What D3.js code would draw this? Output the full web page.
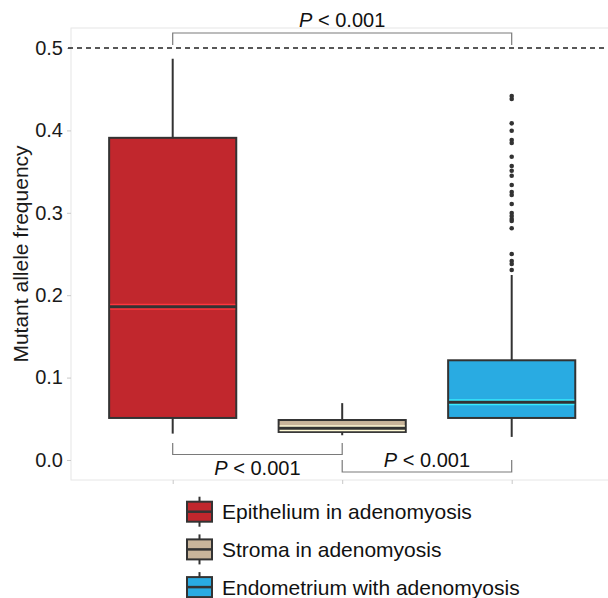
<!DOCTYPE html>
<html>
<head>
<meta charset="utf-8">
<script src="https://cdn.jsdelivr.net/npm/d3@7"></script>
<style>
  body { margin: 0; background: #fff; }
  svg { font-family: "Liberation Sans", Arial, sans-serif; }
</style>
</head>
<body>
<svg id="chart" width="608" height="598"></svg>
<script>
// box statistics
const categories = ["Epithelium in adenomyosis", "Stroma in adenomyosis", "Endometrium with adenomyosis"]
const colors = ["#c1272d", "#c9b59b", "#29abe2"]
const whiskerLow = [0.032, 0.030, 0.028]
const q1 = [0.051, 0.034, 0.051]
const median = [0.186, 0.0385, 0.070]
const q3 = [0.391, 0.0485, 0.121]
const whiskerHigh = [0.487, 0.069, 0.2245]
const endoOutliers = [0.4417, 0.4381, 0.4086, 0.3996, 0.3883, 0.3847, 0.3681, 0.3568,
  0.3511, 0.345, 0.3337, 0.3252, 0.3216, 0.3107, 0.2998, 0.2961, 0.2925, 0.29,
  0.2812, 0.25, 0.2415, 0.2379, 0.2306]
const yTicks = [0.0, 0.1, 0.2, 0.3, 0.4, 0.5]
const threshold = 0.5
const comparisons = [
  { from: 0, to: 2, label: "< 0.001" },
  { from: 0, to: 1, label: "< 0.001" },
  { from: 1, to: 2, label: "< 0.001" },
]

const svg = d3.select("#chart")
const panel = { left: 71, right: 613.4, top: 28, bottom: 480 }

const x = d3.scalePoint()
  .domain(categories)
  .range([panel.left, panel.right])
  .padding(0.6)
const y = d3.scaleLinear()
  .domain([-0.0243, 0.5243])
  .range([panel.bottom, panel.top])
const boxWidth = x.step() * 0.75

// panel border
svg.append("rect")
  .attr("x", panel.left).attr("y", panel.top)
  .attr("width", panel.right - panel.left).attr("height", panel.bottom - panel.top)
  .attr("fill", "none").attr("stroke", "#e6e6e6").attr("stroke-width", 1)

// axes
svg.append("g")
  .attr("transform", `translate(${panel.left},0)`)
  .call(d3.axisLeft(y).tickValues(yTicks).tickFormat(d3.format(".1f")).tickSize(4).tickPadding(4))
  .call((axis) => axis.select(".domain").remove())
  .call((axis) => axis.selectAll("line").attr("stroke", "#c8c8c8"))
  .call((axis) => axis.selectAll("text").attr("fill", "#1a1a1a").style("font-size", "20px")
    .attr("font-family", "Liberation Sans, Arial, sans-serif"))

svg.append("g")
  .attr("transform", `translate(0,${panel.bottom})`)
  .call(d3.axisBottom(x).tickSize(4).tickFormat(""))
  .call((axis) => axis.select(".domain").remove())
  .call((axis) => axis.selectAll("line").attr("stroke", "#c8c8c8"))

svg.append("text")
  .attr("transform", `translate(28,${(panel.top + panel.bottom) / 2}) rotate(-90)`)
  .attr("text-anchor", "middle")
  .attr("fill", "#1a1a1a")
  .style("font-size", "21px")
  .text("Mutant allele frequency")

// threshold line
svg.append("line")
  .attr("x1", panel.left - 3).attr("x2", 608)
  .attr("y1", y(threshold)).attr("y2", y(threshold))
  .attr("stroke", "#222").attr("stroke-width", 1.5)
  .attr("stroke-dasharray", "5,4")

// boxes
const boxes = categories.map((c, i) => ({
  cat: c, color: colors[i], lo: whiskerLow[i], q1: q1[i], med: median[i], q3: q3[i], hi: whiskerHigh[i],
}))

const g = svg.append("g")
const box = g.selectAll("g.box").data(boxes).join("g").attr("class", "box")

box.append("line")
  .attr("x1", (d) => x(d.cat)).attr("x2", (d) => x(d.cat))
  .attr("y1", (d) => y(d.q3)).attr("y2", (d) => y(d.hi))
  .attr("stroke", "#333").attr("stroke-width", 2)
box.append("line")
  .attr("x1", (d) => x(d.cat)).attr("x2", (d) => x(d.cat))
  .attr("y1", (d) => y(d.q1)).attr("y2", (d) => y(d.lo))
  .attr("stroke", "#333").attr("stroke-width", 2)
box.append("rect")
  .attr("x", (d) => x(d.cat) - boxWidth / 2)
  .attr("y", (d) => y(d.q3))
  .attr("width", boxWidth)
  .attr("height", (d) => y(d.q1) - y(d.q3))
  .attr("fill", (d) => d.color)
  .attr("stroke", "#333").attr("stroke-width", 2)
box.append("line")
  .attr("x1", (d) => x(d.cat) - boxWidth / 2 + 1).attr("x2", (d) => x(d.cat) + boxWidth / 2 - 1)
  .attr("y1", (d) => y(d.med)).attr("y2", (d) => y(d.med))
  .attr("stroke", (d) => d3.color(d.color).brighter(0.9)).attr("stroke-width", 6)
box.append("line")
  .attr("x1", (d) => x(d.cat) - boxWidth / 2).attr("x2", (d) => x(d.cat) + boxWidth / 2)
  .attr("y1", (d) => y(d.med)).attr("y2", (d) => y(d.med))
  .attr("stroke", "#333").attr("stroke-width", 3)

g.selectAll("circle")
  .data(endoOutliers)
  .join("circle")
  .attr("cx", x(categories[2]))
  .attr("cy", (d) => y(d))
  .attr("r", 2.3)
  .attr("fill", "#333")

// significance brackets
function pLabel(sel, cx, baseline) {
  const t = sel.append("text")
    .attr("x", cx).attr("y", baseline)
    .attr("text-anchor", "middle")
    .attr("fill", "#111")
    .style("font-size", "20px")
  t.append("tspan").attr("font-style", "italic").text("P")
  t.append("tspan").text(" < 0.001")
}

const br = svg.append("g").attr("fill", "none").attr("stroke", "#7a7a7a").attr("stroke-width", 1.2)
const cTop = comparisons[0]
const xa = x(categories[cTop.from]), xb = x(categories[cTop.to])
br.append("path").attr("d", `M${xa},45V33H${xb}V45`)
pLabel(svg, (xa + xb) / 2, 27)

const c1 = comparisons[1]
const x1a = x(categories[c1.from]), x1b = x(categories[c1.to])
br.append("path").attr("d", `M${x1a},443V454.5H${x1b}V443`)
pLabel(svg, (x1a + x1b) / 2, 475)

const c2 = comparisons[2]
const x2a = x(categories[c2.from]), x2b = x(categories[c2.to])
br.append("path").attr("d", `M${x2a},460V472H${x2b}V460`)
pLabel(svg, (x2a + x2b) / 2, 467)

// legend
const legend = svg.append("g").attr("transform", "translate(187,0)")
const rows = legend.selectAll("g").data(boxes).join("g")
  .attr("transform", (d, i) => `translate(0,${511.7 + i * 37.7})`)
rows.append("line")
  .attr("x1", 12.5).attr("x2", 12.5).attr("y1", -15).attr("y2", 15)
  .attr("stroke", "#333").attr("stroke-width", 2)
rows.append("rect")
  .attr("x", 0).attr("y", -10).attr("width", 25).attr("height", 20)
  .attr("fill", (d) => d.color).attr("stroke", "#333").attr("stroke-width", 2)
rows.append("line")
  .attr("x1", 0).attr("x2", 25).attr("y1", 0).attr("y2", 0)
  .attr("stroke", "#333").attr("stroke-width", 2.5)
rows.append("text")
  .attr("x", 35).attr("y", 7.5)
  .attr("fill", "#111")
  .style("font-size", "21px")
  .text((d) => d.cat)
</script>
</body>
</html>
